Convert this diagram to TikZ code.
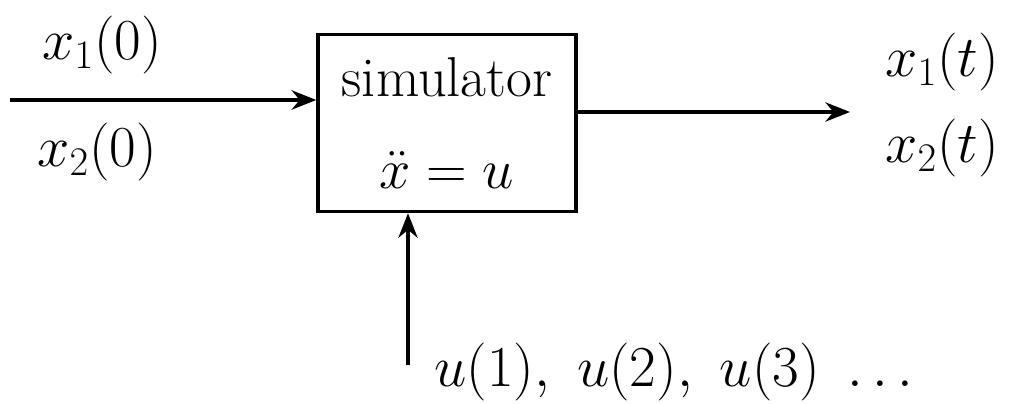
\RequirePackage{fix-cm}
\documentclass[tikz,border=0pt]{standalone}
\usetikzlibrary{arrows.meta}
\begin{document}
\begin{tikzpicture}[x=0.02cm,y=-0.02cm,
  wire/.style={line width=2pt,-{Stealth[length=14pt,width=11pt]}},
  block/.style={draw,line width=2pt,minimum width=5.16cm,minimum height=3.54cm,
    align=center,font=\fontsize{32}{44}\selectfont},
  lbl/.style={font=\fontsize{33}{38}\selectfont}]
  \useasboundingbox (0,0) rectangle (1023,404);
  % simulator block
  \node[block] (sim) at (447,123) {simulator\\[8pt]$\ddot{x}=u$};
  % initial state in
  \coordinate (x0) at (10,100);
  \draw[wire] (x0) -- (x0 -| sim.west);
  \node[lbl] (x10) at (102,45) {$x_1(0)$};
  \node[lbl] (x20) at (97,152) {$x_2(0)$};
  % trajectory out
  \coordinate (xt) at (850,112);
  \draw[wire] (xt -| sim.east) -- (xt);
  \node[lbl] (x1t) at (942,62) {$x_1(t)$};
  \node[lbl] (x2t) at (942,148) {$x_2(t)$};
  % control sequence in
  \coordinate (u) at (408,365);
  \draw[wire] (u) -- (u |- sim.south);
  \node[lbl,anchor=west] (useq) at (428,372) {$u(1),\ u(2),\ u(3)\ \ldots$};
\end{tikzpicture}
\end{document}
